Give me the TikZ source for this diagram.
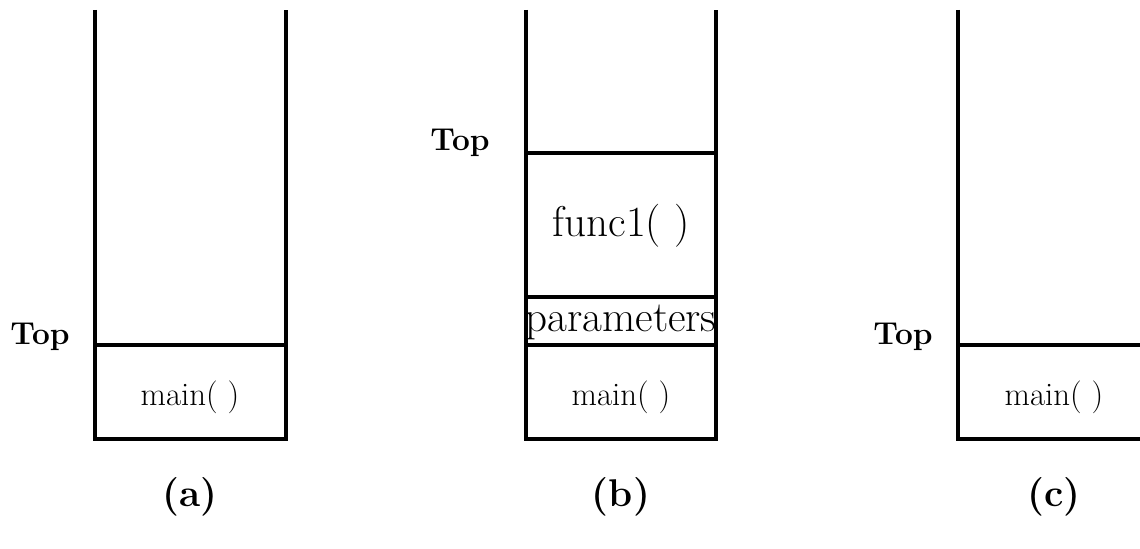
\documentclass[tikz,border=0pt]{standalone}
\usepackage{amssymb,amsmath}
\usepackage{tikz}
\usetikzlibrary{calc}

\begin{document}
\begin{tikzpicture}[line width=2.3pt,
    toplabel/.style={font=\fontsize{18}{21}\selectfont\bfseries},
    caption/.style={font=\fontsize{22}{26}\selectfont\bfseries},
    framebig/.style={font=\fontsize{24.5}{28}\selectfont, inner sep=0pt},
    framesmall/.style={font=\fontsize{18.7}{22}\selectfont}]
  \useasboundingbox (0,0) rectangle (22.8,10.96);
  % (a) only main on the stack
  \begin{scope}[xshift=1.9cm]
    \coordinate (AT) at (0,10.76);
    \coordinate (AB) at (0,2.18);
    \coordinate (CB) at (3.82,2.18);
    \coordinate (CT) at (3.82,10.76);
    \coordinate (AM) at (0,4.06);
    \coordinate (CM) at (3.82,4.06);
    \draw (AT)--(AB)--(CB)--(CT);
    \draw (AM)--(CM);
    \node[framesmall] (mainA) at (1.9,3.02) {main( )};
    \node[toplabel] (topA) at (-1.1,4.22) {Top};
    \node[caption] (capA) at (1.9,1.02) {(a)};
  \end{scope}
  % (b) func1 called with parameters
  \begin{scope}[xshift=10.52cm]
    \coordinate (AT) at (0,10.76);
    \coordinate (AB) at (0,2.18);
    \coordinate (CB) at (3.8,2.18);
    \coordinate (CT) at (3.8,10.76);
    \coordinate (AM) at (0,4.06);
    \coordinate (CM) at (3.8,4.06);
    \coordinate (AP) at (0,5.02);
    \coordinate (CP) at (3.8,5.02);
    \coordinate (AF) at (0,7.90);
    \coordinate (CF) at (3.8,7.90);
    \draw (AT)--(AB)--(CB)--(CT);
    \draw (AM)--(CM);
    \draw (AP)--(CP);
    \draw (AF)--(CF);
    \node[framesmall] (mainB) at (1.9,3.02) {main( )};
    \node[framebig] (parB) at (1.9,4.52) {parameters};
    \node[framebig] (funcB) at (1.9,6.44) {func1( )};
    \node[toplabel] (topB) at (-1.32,8.10) {Top};
    \node[caption] (capB) at (1.9,1.02) {(b)};
  \end{scope}
  % (c) back to main
  \begin{scope}[xshift=19.16cm]
    \coordinate (AT) at (0,10.76);
    \coordinate (AB) at (0,2.18);
    \coordinate (CB) at (3.64,2.18);
    \coordinate (AM) at (0,4.06);
    \coordinate (CM) at (3.64,4.06);
    \draw (AT)--(AB)--(CB);
    \draw (AM)--(CM);
    \node[framesmall] (mainC) at (1.92,3.02) {main( )};
    \node[toplabel] (topC) at (-1.1,4.22) {Top};
    \node[caption] (capC) at (1.92,1.02) {(c)};
  \end{scope}
\end{tikzpicture}
\end{document}
